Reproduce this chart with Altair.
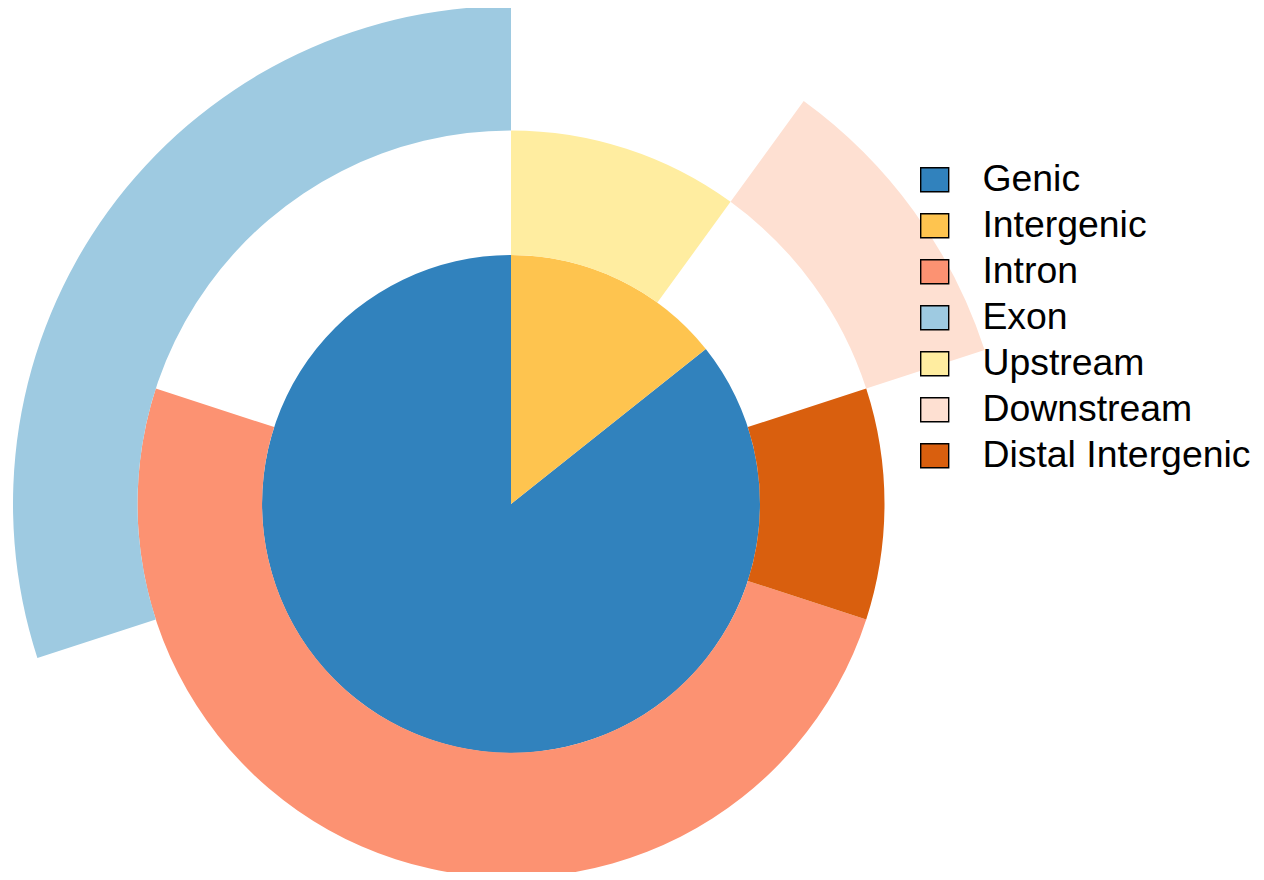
import altair as alt
import pandas as pd

names = ["Genic", "Intergenic", "Intron", "Exon", "Upstream", "Downstream", "Distal Intergenic"]
start_pct = [14.3, 0, 30, 70, 0, 10, 20]
end_pct = [100, 14.3, 80, 100, 10, 20, 30]
ring_inner = [0, 0, 2, 3, 2, 3, 2]
ring_outer = [2, 2, 3, 4, 3, 4, 3]
colors = ["#3182bd", "#fec44f", "#fc9272", "#9ecae1", "#ffeda0", "#fee0d2", "#d95f0e"]

df = pd.DataFrame({
    "name": names,
    "start": start_pct,
    "end": end_pct,
    "r0": ring_inner,
    "r1": ring_outer,
})

chart = alt.Chart(df).mark_arc(stroke=None).encode(
    x=alt.value(503),
    y=alt.value(496),
    theta=alt.Theta("start:Q", scale=alt.Scale(domain=[0, 100], range=[0, 6.283185307])),
    theta2="end:Q",
    radius=alt.Radius("r1:Q", scale=alt.Scale(type="linear", domain=[0, 4], range=[0, 498], zero=True)),
    radius2="r0:Q",
    color=alt.Color(
        "name:N",
        scale=alt.Scale(domain=names, range=colors),
        legend=alt.Legend(
            title=None,
            orient="none",
            legendX=908,
            legendY=153,
            symbolType="M-1,-0.857L1,-0.857L1,0.857L-1,0.857Z",
            symbolSize=784,
            symbolStrokeColor="black",
            symbolStrokeWidth=1.4,
            symbolOpacity=1,
            labelFontSize=37.4,
            labelFont="Liberation Sans",
            labelColor="black",
            labelOffset=29,
            rowPadding=7,
            labelLimit=400,
        ),
    ),
).properties(
    width=1248,
    height=864,
    autosize=alt.AutoSizeParams(type="none"),
    padding=0,
).configure_view(stroke=None)

chart.save("out.html", embed_options={"renderer": "svg", "actions": False})
